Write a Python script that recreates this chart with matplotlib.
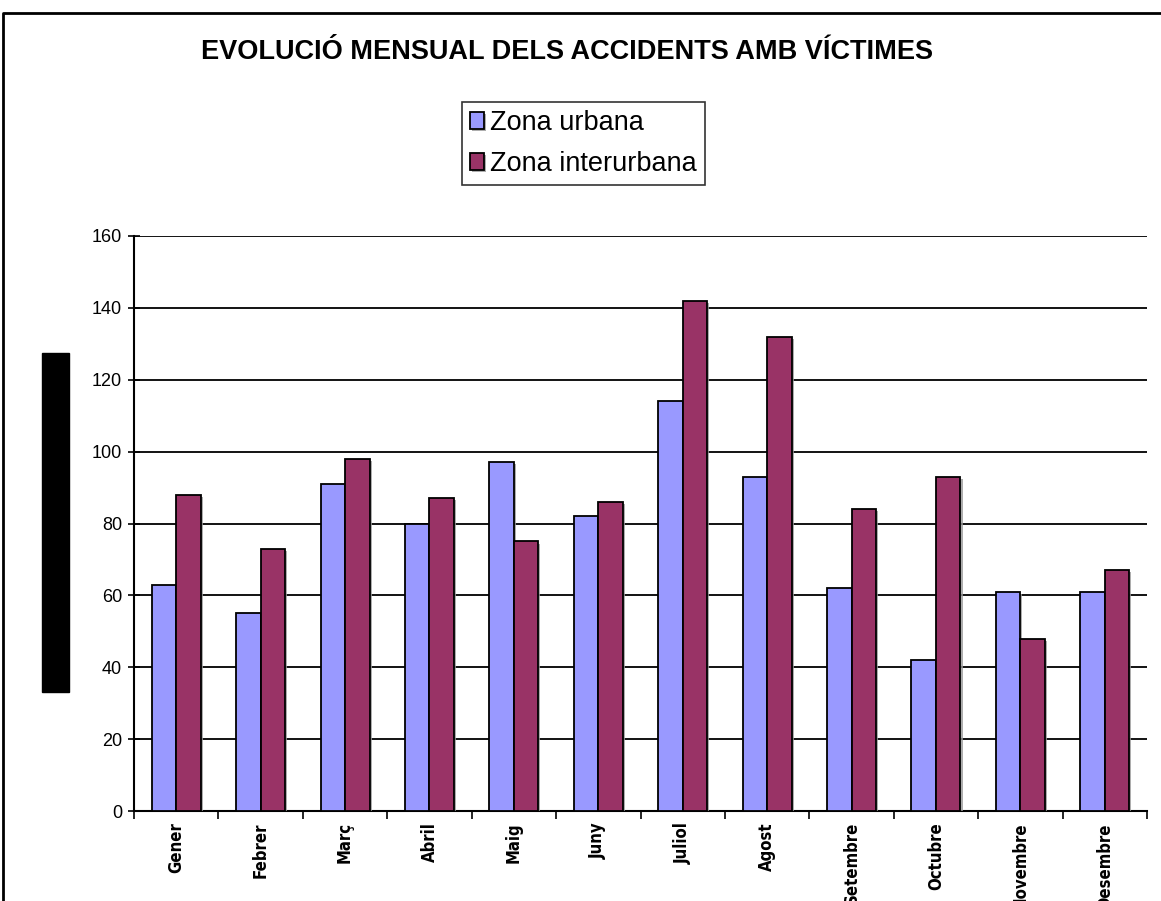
import matplotlib.pyplot as plt
import matplotlib.patheffects as pe
from matplotlib.lines import Line2D
from matplotlib.patches import Rectangle
import numpy as np

months = ["Gener", "Febrer", "Març", "Abril", "Maig", "Juny", "Juliol",
          "Agost", "Setembre", "Octubre", "Novembre", "Desembre"]
urbana = [63, 55, 91, 80, 97, 82, 114, 93, 62, 42, 61, 61]
interurbana = [88, 73, 98, 87, 75, 86, 142, 132, 84, 93, 48, 67]
yticks = [0, 20, 40, 60, 80, 100, 120, 140, 160]

plt.rcParams['font.family'] = ['Liberation Sans', 'DejaVu Sans']

fig = plt.figure(figsize=(11.61, 9.01), dpi=100)
ax = fig.add_axes([134 / 1161, 1 - 811 / 901, (1147 - 134) / 1161, (811 - 236) / 901])

x = np.arange(len(months))
w = 0.29
shadow = [pe.SimplePatchShadow(offset=(1.5, -1.5), shadow_rgbFace='#999999', alpha=0.8), pe.Normal()]
b1 = ax.bar(x - w / 2, urbana, w, color='#9999FF', edgecolor='black', linewidth=1.3,
            label='Zona urbana', zorder=3, path_effects=shadow)
b2 = ax.bar(x + w / 2, interurbana, w, color='#993366', edgecolor='black', linewidth=1.3,
            label='Zona interurbana', zorder=3, path_effects=shadow)

ax.set_xlim(-0.5, len(months) - 0.5)
ax.set_ylim(0, 160)
ax.set_yticks(yticks)
ax.yaxis.grid(True, color='black', linewidth=1.3, zorder=0)
ax.set_axisbelow(True)
ax.tick_params(axis='y', direction='inout', length=9, width=1.2, labelsize=13, pad=4)

ax.set_xticks(x)
ax.set_xticklabels(months, rotation=90, va='top', ha='center',
                   family='DejaVu Sans', fontstretch='condensed', fontweight='bold', fontsize=12)
ax.set_xticks(np.arange(-0.5, len(months)), minor=True)
ax.tick_params(axis='x', which='major', length=0, pad=8)
ax.tick_params(axis='x', which='minor', direction='out', length=6, width=1.2)

for s in ['top', 'right']:
    ax.spines[s].set_visible(False)
ax.spines['left'].set_linewidth(1.5)
ax.spines['bottom'].set_linewidth(1.5)

fig.text(567 / 1161, 1 - 52 / 901, "EVOLUCIÓ MENSUAL DELS ACCIDENTS AMB VÍCTIMES",
         ha='center', va='center', fontsize=19.5, fontweight='bold')

leg = fig.legend(handles=[b1, b2], loc='upper left', bbox_to_anchor=(462 / 1161, 1 - 102 / 901),
                 frameon=True, fancybox=False, edgecolor='black', fontsize=19.5,
                 handlelength=0.5, handleheight=0.6, handletextpad=0.25,
                 borderpad=0.3, labelspacing=0.55, borderaxespad=0)
leg.get_frame().set_linewidth(1.2)

fig.patches.append(Rectangle((42 / 1161, 1 - 692 / 901), 27 / 1161, 339 / 901,
                             transform=fig.transFigure, color='black'))
fig.lines.append(Line2D([3 / 1161, 3 / 1161, 1.0], [0.0, 1 - 13 / 901, 1 - 13 / 901],
                        transform=fig.transFigure, color='black', linewidth=2))

fig.savefig('out.png', dpi=100)
